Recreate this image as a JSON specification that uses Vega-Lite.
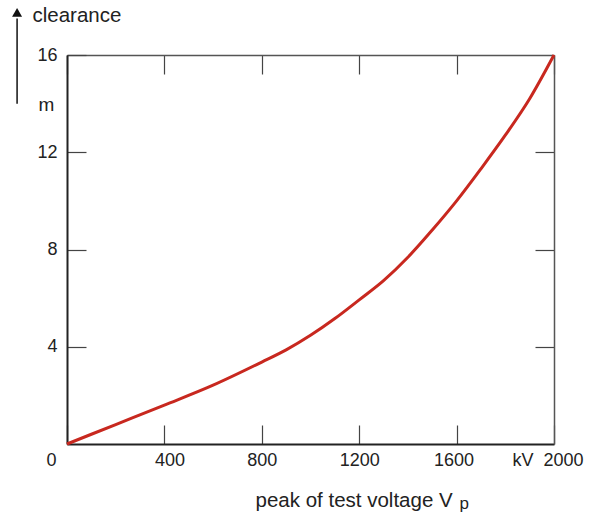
{
  "$schema": "https://vega.github.io/schema/vega-lite/v6.json",
  "width": 487,
  "height": 389,
  "autosize": {"type": "none"},
  "padding": {"left": 67, "top": 55, "right": 38, "bottom": 68},
  "config": {
    "view": {"stroke": null},
    "font": "Liberation Sans",
    "axis": {"grid": false, "labelFont": "Liberation Sans", "titleFont": "Liberation Sans", "labelColor": "#222", "titleColor": "#222", "titleFontWeight": "normal"}
  },
  "datasets": {
    "curve": [
      {"kV": 0, "m": 0},
      {"kV": 200, "m": 0.8},
      {"kV": 400, "m": 1.6},
      {"kV": 600, "m": 2.42},
      {"kV": 800, "m": 3.37},
      {"kV": 900, "m": 3.87},
      {"kV": 1000, "m": 4.47},
      {"kV": 1100, "m": 5.16},
      {"kV": 1200, "m": 5.93},
      {"kV": 1300, "m": 6.72},
      {"kV": 1400, "m": 7.68},
      {"kV": 1500, "m": 8.8},
      {"kV": 1600, "m": 10.0},
      {"kV": 1700, "m": 11.32},
      {"kV": 1800, "m": 12.7},
      {"kV": 1900, "m": 14.2},
      {"kV": 2000, "m": 16.0}
    ],
    "arrow": [{"kV": -205, "m1": 14.0, "m2": 17.5, "tip": 17.75}]
  },
  "resolve": {"axis": {"x": "independent", "y": "independent"}},
  "layer": [
    {
      "data": {"name": "curve"},
      "mark": {"type": "line", "color": "#c8281f", "strokeWidth": 3, "interpolate": "monotone", "clip": false},
      "encoding": {
        "x": {
          "field": "kV", "type": "quantitative",
          "scale": {"domain": [0, 2000], "nice": false, "zero": false},
          "axis": {
            "orient": "bottom",
            "values": [0, 400, 800, 1200, 1600, 2000],
            "format": "d",
            "labelExpr": "datum.value == 2000 ? 'kV\u00a0\u00a02000' : datum.label",
            "labelFontSize": 18,
            "labelPadding": 26,
            "labelAlign": {"condition": {"test": "datum.value == 2000", "value": "left"}, "value": "center"},
            "labelOffset": {"condition": [
              {"test": "datum.value == 0", "value": -16},
              {"test": "datum.value == 400", "value": 5},
              {"test": "datum.value == 1600", "value": -3},
              {"test": "datum.value == 2000", "value": -42}
            ], "value": 0},
            "tickSize": -19,
            "tickColor": "#444",
            "tickWidth": 1.2,
            "domainColor": "#222",
            "domainWidth": 2,
            "labelFlush": false,
            "labelOverlap": false,
            "title": "peak of test voltage V",
            "titleFontSize": 20.5,
            "titleAnchor": "start",
            "titleAlign": "left",
            "titleBaseline": "alphabetic",
            "titleX": 188,
            "titleY": 62
          }
        },
        "y": {
          "field": "m", "type": "quantitative",
          "scale": {"domain": [0, 16], "nice": false},
          "axis": {
            "orient": "left",
            "values": [4, 8, 12, 16],
            "format": "d",
            "labelFontSize": 18,
            "labelPadding": 29,
            "labelAlign": "right",
            "labelBaseline": "middle",
            "tickSize": -19,
            "tickColor": "#444",
            "tickWidth": 1.2,
            "domainColor": "#222",
            "domainWidth": 2,
            "labelFlush": false,
            "labelOverlap": false,
            "title": "clearance",
            "titleFontSize": 20.5,
            "titleAngle": 0,
            "titleAlign": "left",
            "titleBaseline": "middle",
            "titleX": -35,
            "titleY": -40
          }
        }
      }
    },
    {
      "data": {"name": "arrow"},
      "mark": {"type": "rule", "color": "#111", "strokeWidth": 1.5, "clip": false},
      "encoding": {
        "x": {
          "field": "kV", "type": "quantitative",
          "axis": {
            "orient": "top",
            "values": [0, 400, 800, 1200, 1600, 2000],
            "labels": false,
            "tickSize": -19,
            "tickColor": "#444",
            "tickWidth": 1.2,
            "domainColor": "#555",
            "domainWidth": 1.5,
            "title": "p",
            "titleFontSize": 17,
            "titleAngle": 0,
            "titleAlign": "left",
            "titleBaseline": "alphabetic",
            "titleX": 392,
            "titleY": 453
          }
        },
        "y": {
          "field": "m1", "type": "quantitative",
          "axis": {
            "orient": "right",
            "values": [4, 8, 12],
            "labels": false,
            "tickSize": -19,
            "tickColor": "#444",
            "tickWidth": 1.2,
            "domainColor": "#555",
            "domainWidth": 1.5,
            "title": "m",
            "titleFontSize": 19,
            "titleAngle": 0,
            "titleAlign": "left",
            "titleBaseline": "alphabetic",
            "titleX": -516,
            "titleY": 55
          }
        },
        "y2": {"field": "m2"}
      }
    },
    {
      "data": {"name": "arrow"},
      "mark": {"type": "point", "shape": "triangle-up", "filled": true, "color": "#111", "size": 100, "opacity": 1, "clip": false},
      "encoding": {
        "x": {"field": "kV", "type": "quantitative", "axis": null},
        "y": {"field": "tip", "type": "quantitative", "axis": null}
      }
    }
  ]
}
